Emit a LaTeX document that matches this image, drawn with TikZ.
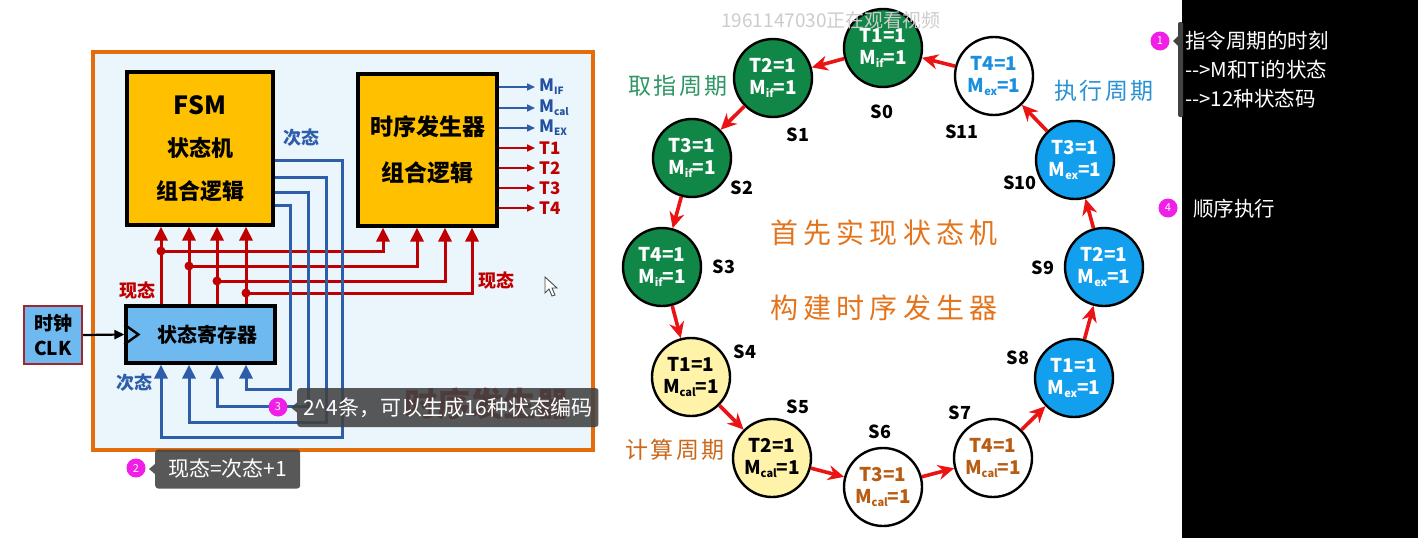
\documentclass[tikz,border=0pt]{standalone}
\usepackage{fontspec}
\setmainfont{Noto Sans CJK SC}
\usetikzlibrary{arrows.meta,calc}
\definecolor{frameor}{RGB}{228,108,10}
\definecolor{framebg}{RGB}{234,246,252}
\definecolor{boxor}{RGB}{255,192,0}
\definecolor{regblue}{RGB}{110,185,240}
\definecolor{clkred}{RGB}{160,40,45}
\definecolor{wred}{RGB}{192,0,0}
\definecolor{wblue}{RGB}{46,93,170}
\definecolor{lblblue}{RGB}{35,80,160}
\definecolor{sgreen}{RGB}{16,135,70}
\definecolor{syellow}{RGB}{255,243,170}
\definecolor{sblue}{RGB}{18,160,238}
\definecolor{sbrown}{RGB}{184,92,18}
\definecolor{sbluet}{RGB}{26,143,224}
\definecolor{arred}{RGB}{235,20,20}
\definecolor{cgreen}{RGB}{46,150,100}
\definecolor{cblue}{RGB}{40,145,210}
\definecolor{corange}{RGB}{200,105,30}
\definecolor{torange}{RGB}{228,116,28}
\definecolor{magc}{RGB}{240,30,230}
\definecolor{tipgray}{RGB}{66,66,66}
\definecolor{ghostred}{RGB}{150,20,20}
\newcommand\fs[1]{\fontsize{#1}{#1}\selectfont}
\newcommand\msub[1]{\raisebox{-0.35ex}{\fontsize{11}{11}\selectfont #1}}
\newcommand\osub[1]{\raisebox{-0.35ex}{\fontsize{10}{10}\selectfont #1}}
\begin{document}
\begin{tikzpicture}[x=1pt,y=-1pt,
  blk/.style={rectangle, draw=black, line width=3.2, fill=boxor, inner sep=0, align=center},
  st/.style={circle, draw=black, line width=2.4, minimum size=78, inner sep=0, align=center, font=\fontsize{19}{22}\selectfont\bfseries},
  slab/.style={font=\fs{18}\bfseries, text=black},
  sar/.style={draw=arred, line width=3.6, -{Stealth[length=16pt,width=15pt]}},
  rw/.style={draw=wred, line width=3},
  bw/.style={draw=wblue, line width=3},
  rtip/.style={-{Triangle[length=14pt,width=13pt]}},
  otip/.style={line width=1.6, -{Triangle[length=8pt,width=7pt]}},
  tipbox/.style={fill=tipgray, fill opacity=0.88, text opacity=1, rounded corners=3pt, text=white, inner xsep=6pt, minimum height=39, font=\fs{21}},
  magdot/.style={circle, fill=magc, text=white, minimum size=19, inner sep=0, font=\fs{11}},
  wtxt/.style={text=white, font=\fs{20.5}, anchor=west, inner sep=0}
]
\useasboundingbox (0,0) rectangle (1418,538);
\fill[white] (0,0) rectangle (1418,538);
\fill[black] (1182,0) rectangle (1418,538);

% ---------- left block diagram ----------
\draw[fill=framebg, draw=frameor, line width=3.6] (93,52) rectangle (593,450);
\node[text=ghostred, font=\fs{33}\bfseries] (ghost) at (487,404) {时序发生器};

\node[blk, minimum width=146, minimum height=153] (fsm) at (200,148.5)
  {{\fs{25}\bfseries FSM}\\[22pt]{\fs{22}\bfseries 状态机}\\[21pt]{\fs{22}\bfseries 组合逻辑}};
\node[blk, minimum width=139, minimum height=152] (tg) at (427.5,150)
  {{\fs{23}\bfseries 时序发生器}\\[23pt]{\fs{23}\bfseries 组合逻辑}};
\node[rectangle, draw=black, line width=3.2, fill=regblue, minimum width=149, minimum height=57, inner sep=0, font=\fs{20}\bfseries] (reg) at (200.5,334.5) {\hspace*{14pt}状态寄存器};
\draw[black, line width=2.4] ($(reg.west)+(0,-10)$) -- ($(reg.west)+(14,0)$) -- ($(reg.west)+(0,10)$);
\node[rectangle, draw=clkred, line width=2.4, fill=regblue, minimum width=58, minimum height=58, inner sep=0, align=center, font=\fontsize{19}{25}\selectfont\bfseries] (clk) at (53,335) {时钟\\CLK};
\draw[black, line width=2.2, -{Triangle[length=10pt,width=9pt]}] (clk.east) -- (reg.west);

% outputs of timing generator
\foreach \i/\yy in {1/87,2/108,3/128,4/148,5/168,6/188,7/208} {
  \coordinate (o\i) at (535,\yy);
}
\foreach \i in {1,2,3} { \draw[otip, draw=wblue] (tg.east |- o\i) -- (o\i); }
\foreach \i in {4,5,6,7} { \draw[otip, draw=wred] (tg.east |- o\i) -- (o\i); }
\node[anchor=west, text=lblblue, font=\fs{17}\bfseries, inner sep=0] (lo1) at ($(o1)+(4,0)$) {M\osub{IF}};
\node[anchor=west, text=lblblue, font=\fs{17}\bfseries, inner sep=0] (lo2) at ($(o2)+(4,0)$) {M\osub{cal}};
\node[anchor=west, text=lblblue, font=\fs{17}\bfseries, inner sep=0] (lo3) at ($(o3)+(4,0)$) {M\osub{EX}};
\foreach \i/\t in {4/T1,5/T2,6/T3,7/T4} {
  \node[anchor=west, text=wred, font=\fs{17}\bfseries, inner sep=0] (lo\i) at ($(o\i)+(4,0)$) {\t};
}

% present-state (red) wires
\foreach \i/\xa/\ya/\xb in {1/161/251/383, 2/189/266/417, 3/217/281/445, 4/246/293/472} {
  \coordinate (j\i) at (\xa,\ya);
  \coordinate (k\i) at (\xb,\ya);
}
\foreach \i in {1,2,3,4} {
  \draw[rw, rtip] (reg.north -| j\i) -- (fsm.south -| j\i);
  \draw[rw, rtip] (j\i) -- (k\i) -- (tg.south -| k\i);
  \fill[wred] (j\i) circle (4.5);
}
% next-state (blue) wires
\foreach \i/\yy/\xc/\yb in {1/160/342/437, 2/177/326/422, 3/192/308/406, 4/205/290/389} {
  \coordinate (a\i) at (\xc,\yy);
  \coordinate (c\i) at (\xc,\yb);
}
\foreach \i in {1,2,3,4} {
  \draw[bw, rtip] (fsm.east |- a\i) -- (a\i) -- (c\i) -- (j\i |- c\i) -- (reg.south -| j\i);
}
\node[text=wred, font=\fs{18}\bfseries] (xt1) at (137,291) {现态};
\node[text=wred, font=\fs{18}\bfseries] (xt2) at (496,281) {现态};
\node[text=wblue, font=\fs{18}\bfseries] (ct1) at (301,138) {次态};
\node[text=wblue, font=\fs{18}\bfseries] (ct2) at (134,383) {次态};

% mouse cursor
\filldraw[fill=white, draw=black!70, line width=0.9] (545,277) -- (545,293) -- (549,289) -- (552,296) -- (555,295) -- (552,288) -- (557,288) -- cycle;

% ---------- state machine ----------
\foreach \n/\px/\py/\fc/\tc/\tn/\sb/\lx/\ly in {
  0/883/48/sgreen/white/1/if/882/112,
  1/773/78/sgreen/white/2/if/798/135,
  2/692/158/sgreen/white/3/if/742/188,
  3/662/267/sgreen/white/4/if/724/267,
  4/691/377/syellow/black/1/cal/745/352,
  5/772/458/syellow/black/2/cal/798/407,
  6/883/487/white/sbrown/3/cal/880/432,
  7/993/458/white/sbrown/4/cal/960/413,
  8/1074/378/sblue/white/1/ex/1018/358,
  9/1104/267/sblue/white/2/ex/1043/268,
  10/1075/160/sblue/white/3/ex/1020/183,
  11/994/76/white/sbluet/4/ex/962/132} {
  \node[st, fill=\fc, text=\tc] (s\n) at (\px,\py) {T\tn=1\\M\msub{\sb}=1};
  \node[slab] (l\n) at (\lx,\ly) {S\n};
}
\foreach \a/\b in {0/1,1/2,2/3,3/4,4/5,5/6,6/7,7/8,8/9,9/10,10/11,11/0} {
  \draw[sar] (s\a) -- (s\b);
}
\node[text=cgreen, font=\fs{23}\addfontfeatures{LetterSpace=10}] (c1) at (678,86) {取指周期};
\node[text=cblue, font=\fs{23}\addfontfeatures{LetterSpace=10}] (c2) at (1104,91) {执行周期};
\node[text=corange, font=\fs{23}\addfontfeatures{LetterSpace=10}] (c3) at (675,450) {计算周期};
\node[text=torange, font=\fs{28}\addfontfeatures{LetterSpace=18}] (h1) at (884,233) {首先实现状态机};
\node[text=torange, font=\fs{28}\addfontfeatures{LetterSpace=18}] (h2) at (884,308) {构建时序发生器};

% watermark
\node[text=black!20, font=\fs{19}] (wm) at (831,20) {1961147030正在观看视频};

% ---------- annotations ----------
\node[tipbox, anchor=west] (t3) at (297,407.5) {2\textasciicircum 4条，可以生成16种状态编码};
\fill[tipgray, opacity=0.88] ($(t3.west)+(0,-5)$) -- ($(t3.west)+(-6,0)$) -- ($(t3.west)+(0,5)$) -- cycle;
\node[magdot] (m3) at (278,407) {3};

\node[tipbox, anchor=west, minimum width=145] (t2) at (155,469) {现态=次态+1};
\fill[tipgray, opacity=0.88] ($(t2.west)+(0,-5)$) -- ($(t2.west)+(-6,0)$) -- ($(t2.west)+(0,5)$) -- cycle;
\node[magdot] (m2) at (136,468) {2};

\fill[tipgray, rounded corners=2pt] (1178,22) rectangle (1183,117);
\fill[tipgray] (1173,41) -- (1179,35) -- (1179,47) -- cycle;
\node[magdot] (m1) at (1160,41) {1};
\node[wtxt] (a1) at (1185,41) {指令周期的时刻};
\node[wtxt] (a2) at (1185,70) {-{}-{}>M和Ti的状态};
\node[wtxt] (a3) at (1185,99) {-{}-{}>12种状态码};
\node[magdot] (m4) at (1168,208) {4};
\node[wtxt] (a4) at (1193,209) {顺序执行};
\end{tikzpicture}
\end{document}
